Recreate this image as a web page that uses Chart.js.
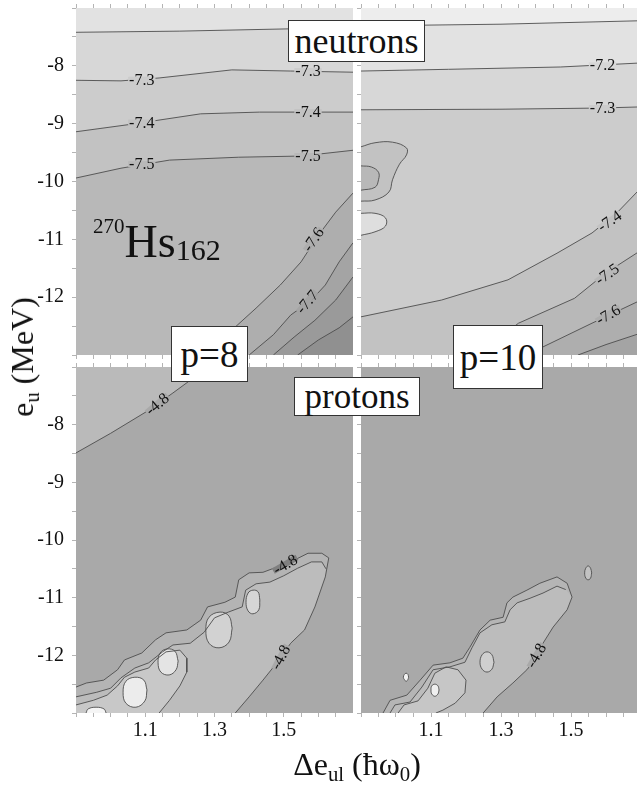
<!DOCTYPE html>
<html>
<head>
<meta charset="utf-8">
<title>270Hs162 contours</title>
<script src="https://cdn.jsdelivr.net/npm/chart.js@4.4.1/dist/chart.umd.min.js"></script>
<style>
  html, body { margin: 0; padding: 0; background: #fff; }
  body { position: relative; width: 637px; height: 787px; overflow: hidden; font-family: "Liberation Serif", serif; color: #111; }
  canvas { position: absolute; }
  .box { position: absolute; box-sizing: border-box; background: #fff; border: 1.5px solid #333; display: flex; align-items: center; justify-content: center; font-size: 36px; line-height: 1; }
  .txt { position: absolute; white-space: nowrap; line-height: 1; }
  .txt sub { font-size: 0.65em; vertical-align: -0.28em; line-height: 0; }
</style>
</head>
<body>
<canvas id="n8" width="353" height="360" style="left:0;top:0"></canvas>
<canvas id="n10" width="286" height="360" style="left:355px;top:0"></canvas>
<canvas id="p8" width="353" height="401" style="left:0;top:362px"></canvas>
<canvas id="p10" width="286" height="401" style="left:355px;top:362px"></canvas>

<div class="box" style="left:288px;top:20px;width:137px;height:42px">neutrons</div>
<div class="box" style="left:171px;top:326px;width:77px;height:56px;font-size:37px">p=8</div>
<div class="box" style="left:453px;top:325px;width:90px;height:64px;font-size:37px">p=10</div>
<div class="box" style="left:294px;top:377px;width:126px;height:39px;font-size:35px">protons</div>
<div class="txt" style="left:93px;top:219px;font-size:46px"><span style="font-size:21px;position:relative;top:-24px">270</span>Hs<span style="font-size:30px;position:relative;top:3px">162</span></div>
<div class="txt" style="left:257px;top:748px;width:200px;text-align:center;font-size:32px">Δe<sub>ul</sub> (ħω<sub>0</sub>)</div>
<div class="txt" style="left:22px;top:357px;font-size:32px;transform:translate(-50%,-50%) rotate(-90deg)">e<sub>u</sub> (MeV)</div>

<script>
// axes
const xRange = [0.9, 1.7];
const yRange = [-13, -7];
const xTickLabels = [1.1, 1.3, 1.5];
const yTickLabels = [-8, -9, -10, -11, -12];

// neutrons, p=8 : contour lines [delta e_ul, e_u]
const n8_72 = [[0.9,-7.42],[1.2,-7.40],[1.52,-7.36],[1.7,-7.36]];
const n8_73 = [[0.9,-8.25],[1.03,-8.26],[1.14,-8.21],[1.35,-8.07],[1.52,-8.09],[1.7,-8.11]];
const n8_74 = [[0.9,-9.14],[1.06,-9.01],[1.26,-8.83],[1.43,-8.8],[1.7,-8.8]];
const n8_75 = [[0.9,-9.94],[1.03,-9.77],[1.17,-9.63],[1.37,-9.58],[1.55,-9.56],[1.7,-9.46]];
const n8_76 = [[1.27,-13],[1.35,-12.57],[1.42,-12.19],[1.49,-11.79],[1.55,-11.39],[1.6,-10.93],[1.65,-10.53],[1.7,-10.2]];
const n8_77 = [[1.4,-13],[1.47,-12.65],[1.52,-12.31],[1.58,-12.05],[1.62,-11.79],[1.66,-11.39],[1.7,-11.06]];
const n8_78 = [[1.47,-13],[1.53,-12.69],[1.59,-12.4],[1.65,-12.05],[1.7,-11.65]];
const n8_79 = [[1.54,-13],[1.6,-12.74],[1.66,-12.53],[1.7,-12.34]];
const n8Labels = [['-7.3',1.09,-8.24,0],['-7.3',1.57,-8.09,0],['-7.4',1.09,-8.98,0],['-7.4',1.57,-8.8,0],
                  ['-7.5',1.09,-9.7,0],['-7.5',1.57,-9.56,0],['-7.6',1.585,-11.0,-55],['-7.7',1.567,-12.08,-50]];

// neutrons, p=10
const n10_71 = [[0.9,-7.31],[1.3,-7.28],[1.7,-7.22]];
const n10_72 = [[0.9,-8.09],[1.15,-8.06],[1.47,-8.02],[1.7,-7.95]];
const n10_73 = [[0.9,-8.76],[1.3,-8.75],[1.58,-8.73],[1.7,-8.71]];
const n10_74 = [[0.9,-12.34],[1.13,-12.05],[1.32,-11.7],[1.46,-11.24],[1.56,-10.89],[1.63,-10.55],[1.7,-10.11]];
const n10_75 = [[1.23,-13],[1.35,-12.45],[1.51,-12.02],[1.6,-11.58],[1.7,-11.19]];
const n10_76 = [[1.38,-13],[1.42,-12.86],[1.56,-12.45],[1.7,-12.05]];
const n10_77 = [[1.52,-13],[1.6,-12.82],[1.7,-12.62]];
const n10_blobA = [[0.9,-9.4],[0.94,-9.33],[0.99,-9.32],[1.03,-9.42],[1.03,-9.54],[1.01,-9.7],[0.99,-9.97],[0.98,-10.18],[0.94,-10.32],[0.9,-10.34]];
const n10_blobB = [[0.9,-9.73],[0.93,-9.75],[0.95,-9.84],[0.95,-9.97],[0.94,-10.1],[0.9,-10.15]];
const n10_blobC = [[0.9,-10.55],[0.94,-10.55],[0.97,-10.63],[0.97,-10.77],[0.94,-10.87],[0.9,-10.93]];
const n10Labels = [['-7.2',1.59,-7.99,0],['-7.3',1.59,-8.73,0],['-7.4',1.61,-10.68,-35],['-7.5',1.603,-11.6,-35],['-7.6',1.606,-12.3,-30]];

// protons, p=8
const p8_top = [[0.9,-8.49],[1.0,-8.15],[1.11,-7.75],[1.18,-7.45],[1.23,-7.23],[1.27,-7.0]];
const p8_outer = [[0.9,-12.55],[0.93,-12.48],[0.98,-12.43],[1.02,-12.25],[1.04,-12.08],[1.09,-11.96],[1.13,-11.73],[1.16,-11.61],
  [1.22,-11.56],[1.26,-11.39],[1.28,-11.16],[1.33,-11.08],[1.36,-10.99],[1.37,-10.69],[1.4,-10.57],[1.44,-10.56],[1.48,-10.47],
  [1.53,-10.35],[1.57,-10.23],[1.61,-10.23],[1.63,-10.31],[1.62,-10.64],[1.59,-11.16],[1.56,-11.56],[1.52,-11.79],[1.48,-12.13],
  [1.44,-12.43],[1.4,-12.72],[1.36,-13]];
const p8_bandEdge = [[0.9,-12.72],[0.96,-12.64],[1.0,-12.57],[1.03,-12.39],[1.07,-12.22],[1.11,-12.13],[1.15,-11.94],[1.18,-11.82],
  [1.23,-11.79],[1.27,-11.6],[1.3,-11.35],[1.34,-11.25],[1.38,-11.16],[1.39,-10.87],[1.42,-10.76],[1.46,-10.73],[1.5,-10.62],
  [1.54,-10.49],[1.58,-10.38],[1.61,-10.38],[1.622,-10.5]];
const p8_inner = [[0.9,-12.86],[0.95,-12.78],[0.99,-12.69],[1.02,-12.53],[1.04,-12.38],[1.07,-12.29],[1.11,-12.22],[1.13,-12.08],
  [1.16,-11.94],[1.2,-11.91],[1.22,-12.05],[1.22,-12.29],[1.2,-12.53],[1.17,-12.78],[1.14,-13]];
const p8_e1 = [[1.431,-11.04],[1.426,-10.9],[1.411,-10.87],[1.397,-10.92],[1.391,-11.08],[1.397,-11.23],[1.411,-11.28],[1.428,-11.21]];
const p8_e2 = [[1.351,-11.53],[1.342,-11.32],[1.316,-11.25],[1.284,-11.34],[1.275,-11.56],[1.284,-11.79],[1.313,-11.87],[1.342,-11.77]];
const p8_e3 = [[1.195,-12.1],[1.186,-11.93],[1.163,-11.89],[1.143,-11.96],[1.137,-12.13],[1.145,-12.29],[1.169,-12.34],[1.189,-12.25]];
const p8_e4 = [[1.105,-12.6],[1.096,-12.43],[1.07,-12.38],[1.044,-12.45],[1.036,-12.64],[1.044,-12.83],[1.073,-12.9],[1.099,-12.79]];
const p8_e5 = [[0.987,-13],[0.981,-12.93],[0.958,-12.9],[0.935,-12.93],[0.929,-13]];
const p8Labels = [['-4.8',1.134,-7.64,-40],['-4.8',1.504,-10.42,-30],['-4.8',1.49,-12.03,-62]];

// protons, p=10
const p10_outer = [[0.963,-13],[0.983,-12.78],[1.031,-12.69],[1.069,-12.43],[1.106,-12.17],[1.154,-12.13],[1.191,-12.05],[1.211,-11.86],
  [1.24,-11.56],[1.269,-11.39],[1.306,-11.34],[1.317,-11.09],[1.334,-10.99],[1.374,-10.87],[1.411,-10.75],[1.46,-10.64],[1.489,-10.75],
  [1.503,-10.99],[1.489,-11.21],[1.449,-11.51],[1.42,-11.79],[1.403,-12.03],[1.374,-12.25],[1.334,-12.48],[1.289,-12.72],[1.249,-13]];
const p10_bandEdge = [[0.983,-13],[0.997,-12.86],[1.04,-12.81],[1.074,-12.55],[1.106,-12.25],[1.154,-12.2],[1.197,-12.12],[1.217,-11.87],
  [1.24,-11.61],[1.274,-11.47],[1.311,-11.42],[1.326,-11.21],[1.346,-11.09],[1.383,-11.01],[1.42,-10.92],[1.46,-10.8],[1.485,-10.86]];
const p10_inner = [[1.006,-13],[1.023,-12.86],[1.063,-12.79],[1.091,-12.57],[1.111,-12.31],[1.143,-12.2],[1.177,-12.25],[1.2,-12.43],
  [1.197,-12.65],[1.169,-12.83],[1.134,-12.95],[1.114,-13]];
const p10_e1 = [[1.123,-12.6],[1.12,-12.53],[1.111,-12.5],[1.102,-12.53],[1.1,-12.6],[1.102,-12.67],[1.111,-12.71],[1.12,-12.67]];
const p10_e2 = [[1.28,-12.12],[1.274,-11.99],[1.26,-11.94],[1.246,-11.99],[1.24,-12.12],[1.246,-12.24],[1.26,-12.29],[1.274,-12.24]];
const p10_e3 = [[1.559,-10.57],[1.556,-10.49],[1.549,-10.45],[1.542,-10.49],[1.539,-10.57],[1.542,-10.66],[1.549,-10.69],[1.556,-10.66]];
const p10_e4 = [[1.036,-12.38],[1.034,-12.33],[1.029,-12.31],[1.024,-12.33],[1.021,-12.38],[1.024,-12.42],[1.029,-12.45],[1.034,-12.42]];
const p10Labels = [['-4.8',1.4,-12.0,-60]];

Chart.defaults.font.family = '"Liberation Serif", serif';

const lineColor = '#4d4d4d';
const tickColor = '#b4b4b4';
const cBR = [xRange[1], yRange[0]];  // corners of the panel
const cBL = [xRange[0], yRange[0]];
const cTL = [xRange[0], yRange[1]];

const toXY = pts => pts.map(p => ({x: p[0], y: p[1]}));

function band(line, corners, color, tension) {
  return {data: toXY(line.concat(corners)), fill: 'shape', backgroundColor: color, borderWidth: 0, tension: tension || 0};
}
function contour(line, tension) {
  return {data: toXY(line), fill: false, borderColor: lineColor, borderWidth: 0.9, tension: tension || 0};
}
function blob(pts, color) {
  return {data: toXY(pts.concat([pts[0]])), fill: 'shape', backgroundColor: color,
          borderColor: lineColor, borderWidth: 0.9, tension: 0.4};
}

function xAxis(pos, labels, h) {
  return {
    type: 'linear', position: pos, min: xRange[0], max: xRange[1],
    grid: {drawOnChartArea: false, drawTicks: true, tickLength: 4, color: tickColor},
    border: {display: false},
    ticks: {
      stepSize: 0.05, autoSkip: false, maxRotation: 0, minRotation: 0, display: labels, padding: 2,
      color: '#111', font: {size: 20},
      callback: v => xTickLabels.some(t => Math.abs(t - v) < 1e-6) ? v.toFixed(1) : ''
    },
    afterFit: s => { s.height = h; s.paddingLeft = 0; s.paddingRight = 0; }
  };
}
function yAxis(labels, w) {
  return {
    type: 'linear', position: 'left', min: yRange[0], max: yRange[1],
    grid: {drawOnChartArea: false, drawTicks: true, tickLength: 4, color: tickColor},
    border: {display: false},
    ticks: {
      stepSize: 0.5, autoSkip: false, display: labels, padding: 8,
      color: '#111', font: {size: 20},
      callback: v => yTickLabels.some(t => Math.abs(t - v) < 1e-6) ? String(v) : ''
    },
    afterFit: s => { s.width = w; s.paddingTop = 0; s.paddingBottom = 0; }
  };
}

// panel background and inline contour values
function bgPlugin(color) {
  return {
    id: 'panelBg',
    beforeDatasetsDraw(chart) {
      const a = chart.chartArea, ctx = chart.ctx;
      ctx.save();
      ctx.fillStyle = color;
      ctx.fillRect(a.left, a.top, a.right - a.left, a.bottom - a.top);
      ctx.restore();
    }
  };
}
function textPlugin(items) {
  return {
    id: 'contourText',
    afterDatasetsDraw(chart) {
      const ctx = chart.ctx, xs = chart.scales.x, ys = chart.scales.y;
      ctx.save();
      ctx.font = '16px "Liberation Serif"';
      ctx.textAlign = 'center';
      ctx.textBaseline = 'middle';
      for (const [t, x, y, a] of items) {
        const px = xs.getPixelForValue(x), py = ys.getPixelForValue(y), r = a * Math.PI / 180;
        // colour of the band just under the label, used to break the line
        const sx = Math.round(px - Math.sin(r) * 9), sy = Math.round(py + Math.cos(r) * 9);
        const c = ctx.getImageData(sx, sy, 1, 1).data;
        const w = ctx.measureText(t).width + 2;
        ctx.save();
        ctx.translate(px, py);
        ctx.rotate(r);
        ctx.fillStyle = 'rgb(' + c[0] + ',' + c[1] + ',' + c[2] + ')';
        ctx.fillRect(-w / 2, -3, w, 6);
        ctx.fillStyle = '#111';
        ctx.fillText(t, 0, 1);
        ctx.restore();
      }
      ctx.restore();
    }
  };
}

function panel(id, o) {
  const ds = o.layers.map((d, i, a) => Object.assign({order: a.length - i, pointRadius: 0, pointHoverRadius: 0}, d));
  return new Chart(document.getElementById(id), {
    type: 'line',
    data: {datasets: ds},
    options: {
      responsive: false,
      animation: false,
      events: [],
      layout: {padding: 0},
      plugins: {legend: {display: false}, tooltip: {enabled: false}},
      scales: {
        x: xAxis('bottom', o.xLabels, o.bottomH),
        xt: xAxis('top', false, o.topH),
        y: yAxis(o.yLabels, o.leftW)
      }
    },
    plugins: [bgPlugin(o.bg), textPlugin(o.text)]
  });
}

panel('n8', {
  bg: '#e2e2e2', xLabels: false, yLabels: true, leftW: 76, topH: 8, bottomH: 5, text: n8Labels,
  layers: [
    band(n8_72, [cBR, cBL], '#d7d7d7'),
    band(n8_73, [cBR, cBL], '#cccccc'),
    band(n8_74, [cBR, cBL], '#c2c2c2'),
    band(n8_75, [cBR, cBL], '#b8b8b8'),
    band(n8_76, [cBR], '#aeaeae'),
    band(n8_77, [cBR], '#a4a4a4'),
    band(n8_78, [cBR], '#9a9a9a'),
    band(n8_79, [cBR], '#909090'),
    contour(n8_72), contour(n8_73), contour(n8_74), contour(n8_75),
    contour(n8_76), contour(n8_77), contour(n8_78), contour(n8_79)
  ]
});

panel('n10', {
  bg: '#ededed', xLabels: false, yLabels: false, leftW: 6, topH: 8, bottomH: 5, text: n10Labels,
  layers: [
    band(n10_71, [cBR, cBL], '#e2e2e2'),
    band(n10_72, [cBR, cBL], '#d7d7d7'),
    band(n10_73, [cBR, cBL], '#cccccc'),
    band(n10_74, [cBR, cBL], '#c2c2c2'),
    band(n10_75, [cBR], '#b8b8b8'),
    band(n10_76, [cBR], '#aeaeae'),
    band(n10_77, [cBR], '#a4a4a4'),
    band(n10_blobA, [], '#c2c2c2', 0.4),
    band(n10_blobB, [], '#b8b8b8', 0.4),
    band(n10_blobC, [], '#dedede', 0.4),
    contour(n10_71), contour(n10_72), contour(n10_73), contour(n10_74),
    contour(n10_75), contour(n10_76), contour(n10_77),
    contour(n10_blobA, 0.4), contour(n10_blobB, 0.4), contour(n10_blobC, 0.4)
  ]
});

// the inner band shares the right-hand -4.8 edge of the outer one
const p8_bandFill = p8_bandEdge.concat(p8_outer.slice(21));
const p10_bandFill = p10_bandEdge.concat(p10_outer.slice(17));

panel('p8', {
  bg: '#a9a9a9', xLabels: true, yLabels: true, leftW: 76, topH: 5, bottomH: 50, text: p8Labels,
  layers: [
    band(p8_top, [cTL], '#bababa'),
    band(p8_outer, [cBL], '#b4b4b4'),
    band(p8_bandFill, [cBL], '#bcbcbc'),
    band(p8_inner, [cBL], '#c8c8c8'),
    blob(p8_e1, '#d6d6d6'),
    blob(p8_e2, '#d2d2d2'),
    blob(p8_e3, '#e4e4e4'),
    blob(p8_e4, '#ececec'),
    band(p8_e5, [], '#f5f5f5', 0.4),
    contour(p8_top), contour(p8_outer), contour(p8_bandEdge), contour(p8_inner), contour(p8_e5, 0.4)
  ]
});

panel('p10', {
  bg: '#a9a9a9', xLabels: true, yLabels: false, leftW: 6, topH: 5, bottomH: 50, text: p10Labels,
  layers: [
    band(p10_outer, [], '#b5b5b5'),
    band(p10_bandFill, [], '#bcbcbc'),
    band(p10_inner, [], '#c6c6c6'),
    blob(p10_e2, '#cfcfcf'),
    blob(p10_e3, '#c2c2c2'),
    blob(p10_e1, '#efefef'),
    blob(p10_e4, '#f3f3f3'),
    contour(p10_outer), contour(p10_bandEdge), contour(p10_inner)
  ]
});
</script>
</body>
</html>
